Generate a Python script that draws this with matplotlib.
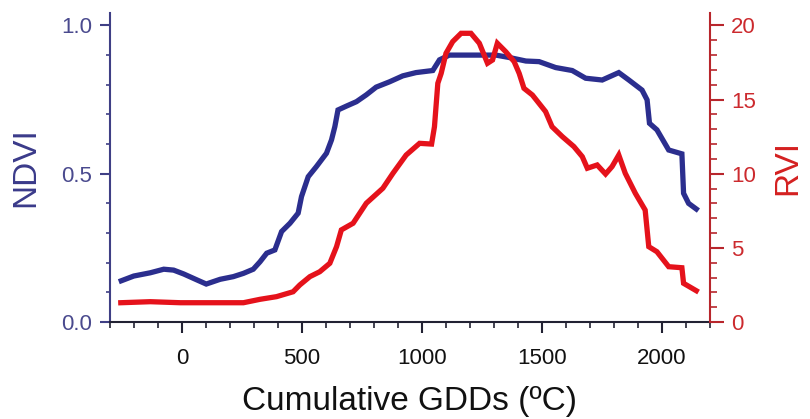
import numpy as np
import matplotlib.pyplot as plt
from matplotlib.ticker import MultipleLocator, FormatStrFormatter

plt.rcParams['font.family'] = ['Liberation Sans', 'DejaVu Sans']

# NDVI curve
ndvi_gdd = [-253, -201, -132, -76, -35, 7, 62, 101, 159, 214, 256, 297, 325, 353, 387,
            415, 450, 484, 498, 526, 560, 602, 623, 637, 650, 685, 727, 768, 809, 865,
            920, 975, 1045, 1073, 1114, 1308, 1363, 1433, 1488, 1557, 1626, 1682, 1751,
            1820, 1862, 1917, 1938, 1948, 1979, 2028, 2083, 2090, 2111, 2143]
ndvi = [0.139, 0.155, 0.166, 0.178, 0.175, 0.162, 0.142, 0.128, 0.144, 0.153, 0.164,
        0.178, 0.203, 0.232, 0.243, 0.305, 0.333, 0.367, 0.423, 0.490, 0.524, 0.569,
        0.614, 0.659, 0.715, 0.728, 0.743, 0.766, 0.792, 0.810, 0.830, 0.841, 0.848,
        0.884, 0.900, 0.900, 0.892, 0.880, 0.878, 0.858, 0.848, 0.822, 0.816, 0.841,
        0.816, 0.782, 0.749, 0.670, 0.648, 0.580, 0.567, 0.434, 0.400, 0.381]

# RVI curve
rvi_gdd = [-255, -132, -7, 256, 325, 394, 463, 491, 533, 574, 616, 644, 664, 713, 768,
           837, 879, 934, 990, 1040, 1052, 1066, 1080, 1100, 1128, 1163, 1204, 1239,
           1273, 1294, 1314, 1349, 1384, 1405, 1425, 1460, 1515, 1542, 1585, 1633, 1668,
           1689, 1730, 1765, 1792, 1820, 1847, 1889, 1930, 1945, 1979, 2028, 2083, 2090,
           2143]
rvi = [1.30, 1.37, 1.30, 1.30, 1.53, 1.71, 2.04, 2.50, 3.06, 3.39, 3.96, 5.08, 6.21,
       6.66, 8.01, 9.02, 10.03, 11.26, 12.05, 12.0, 13.17, 16.1, 16.77, 18.12, 18.91,
       19.47, 19.47, 18.8, 17.45, 17.67, 18.8, 18.23, 17.56, 16.77, 15.76, 15.31, 14.19,
       13.17, 12.5, 11.83, 11.15, 10.37, 10.59, 9.98, 10.48, 11.26, 10.03, 8.68, 7.55,
       5.08, 4.74, 3.73, 3.66, 2.61, 2.11]

blue = '#2b2e8e'
red = '#e5121b'
axblue = '#3f3f85'
axred = '#b8262c'

fig = plt.figure(figsize=(8.1, 4.19), dpi=100)
ax = fig.add_axes([0.1358, 0.2315, 0.7407, 0.7375])
ax2 = ax.twinx()

ax.plot(ndvi_gdd, ndvi, color=blue, lw=3.8, solid_joinstyle='miter')
ax2.plot(rvi_gdd, rvi, color=red, lw=3.8, solid_joinstyle='miter')

ax.set_xlim(-300, 2200)
ax.set_ylim(0, 1.042)
ax2.set_ylim(0, 20.84)

ax.xaxis.set_major_locator(MultipleLocator(500))
ax.xaxis.set_minor_locator(MultipleLocator(100))
ax.yaxis.set_major_locator(MultipleLocator(0.5))
ax.yaxis.set_minor_locator(MultipleLocator(0.1))
ax.yaxis.set_major_formatter(FormatStrFormatter('%.1f'))
ax2.yaxis.set_major_locator(MultipleLocator(5))
ax2.yaxis.set_minor_locator(MultipleLocator(1))

for a in (ax, ax2):
    a.spines['top'].set_visible(False)
ax2.spines['left'].set_visible(False)
ax2.spines['bottom'].set_visible(False)
ax.spines['right'].set_visible(False)
ax.spines['left'].set_color(axblue)
ax.spines['bottom'].set_color('#222233')
ax2.spines['right'].set_color(axred)
for s in ('left', 'bottom'):
    ax.spines[s].set_linewidth(1.5)
ax2.spines['right'].set_linewidth(1.5)

ax.tick_params(axis='x', which='major', length=8, width=1.5, color='#222233',
               labelsize=16, labelcolor='#111111', pad=11)
ax.tick_params(axis='x', which='minor', length=4, width=1.2, color='#222233')
ax.tick_params(axis='y', which='major', length=7, width=1.5, color=axblue,
               labelsize=16, labelcolor='#4a4a8e', pad=6)
ax.tick_params(axis='y', which='minor', length=3, width=1.2, color=axblue)
ax2.tick_params(axis='y', which='major', length=10, width=1.5, color=axred,
                labelsize=16, labelcolor='#cc2a2e', pad=5)
ax2.tick_params(axis='y', which='minor', length=5, width=1.2, color=axred)

ax.set_ylabel('NDVI', fontsize=24, color='#3a3a8a', labelpad=14)
ax2.set_ylabel('RVI', fontsize=24, color='#d42020', labelpad=12)
ax.set_xlabel('Cumulative GDDs (ºC)', fontsize=24, color='#111111', labelpad=12)

fig.savefig('out.png', dpi=100)
